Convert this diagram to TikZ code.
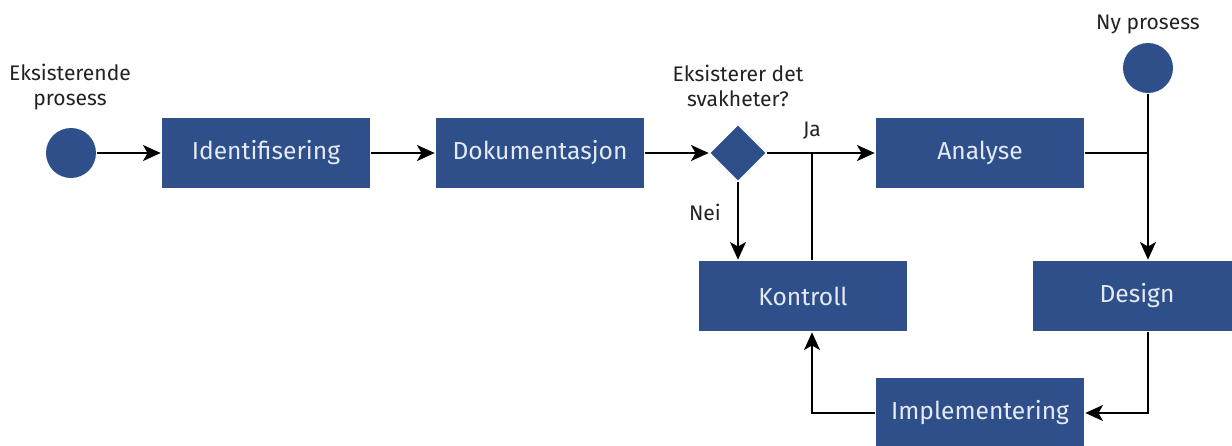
\documentclass[tikz,border=0pt]{standalone}
\usepackage{fontspec}
\setmainfont{Fira Sans}
\usetikzlibrary{arrows.meta,shapes.geometric}
\definecolor{boksblaa}{RGB}{46,79,138}
\definecolor{lystekst}{RGB}{228,234,244}
\definecolor{morktekst}{RGB}{34,34,34}
\begin{document}
\begin{tikzpicture}[x=0.02cm,y=-0.02cm,
    boks/.style={fill=boksblaa,text=lystekst,minimum width=4.16cm,minimum height=1.4cm,inner sep=0pt,font=\fontsize{14}{16}\selectfont},
    prikk/.style={circle,fill=boksblaa,minimum size=1cm,inner sep=0pt},
    valg/.style={diamond,fill=boksblaa,minimum width=1.12cm,minimum height=1.12cm,inner sep=0pt},
    merke/.style={text=morktekst,align=center,font=\fontsize{12}{14}\selectfont},
    pil/.style={-{Stealth[length=10pt,width=9pt,inset=2.5pt]}},
    line width=1.5pt]
    \useasboundingbox (0,0) rectangle (1232,446);
    %
    \node[prikk] (eks) at (71,153) {};
    \node[merke] (eksL) at (70,87) {Eksisterende\\prosess};
    \node[boks] (ident) at (266,153) {Identifisering};
    \node[boks] (dok) at (540,153) {Dokumentasjon};
    \node[valg] (svak) at (738,153) {};
    \node[merke] (svakL) at (738,86) {Eksisterer det\\svakheter?};
    \node[boks] (analyse) at (980,153) {Analyse};
    \node[boks] (kontroll) at (803,296) {Kontroll};
    \node[boks] (design) at (1137,296) {Design};
    \node[boks] (impl) at (980,413) {Implementering};
    \node[prikk] (ny) at (1148,68) {};
    \node[merke] (nyL) at (1148,24) {Ny prosess};
    \node[merke] (ja) at (812,131) {Ja};
    \node[merke] (nei) at (705,212) {Nei};
    \coordinate (jaknekk) at (812,153);
    %
    \draw[pil] (eks) -- (ident);
    \draw[pil] (ident) -- (dok);
    \draw[pil] (dok) -- (svak);
    \draw[pil] (svak) -- (analyse);
    \draw[pil] (svak.south) -- (svak.south |- kontroll.north);
    \draw (kontroll.north -| jaknekk) -- (jaknekk);
    %
    \draw[pil] (ny) -- (ny |- design.north);
    \draw (analyse.east) -- (analyse.east -| ny);
    \draw[pil] (design.south -| ny) |- (impl.east);
    \draw[pil] (impl.west) -| (jaknekk |- kontroll.south);
\end{tikzpicture}
\end{document}
